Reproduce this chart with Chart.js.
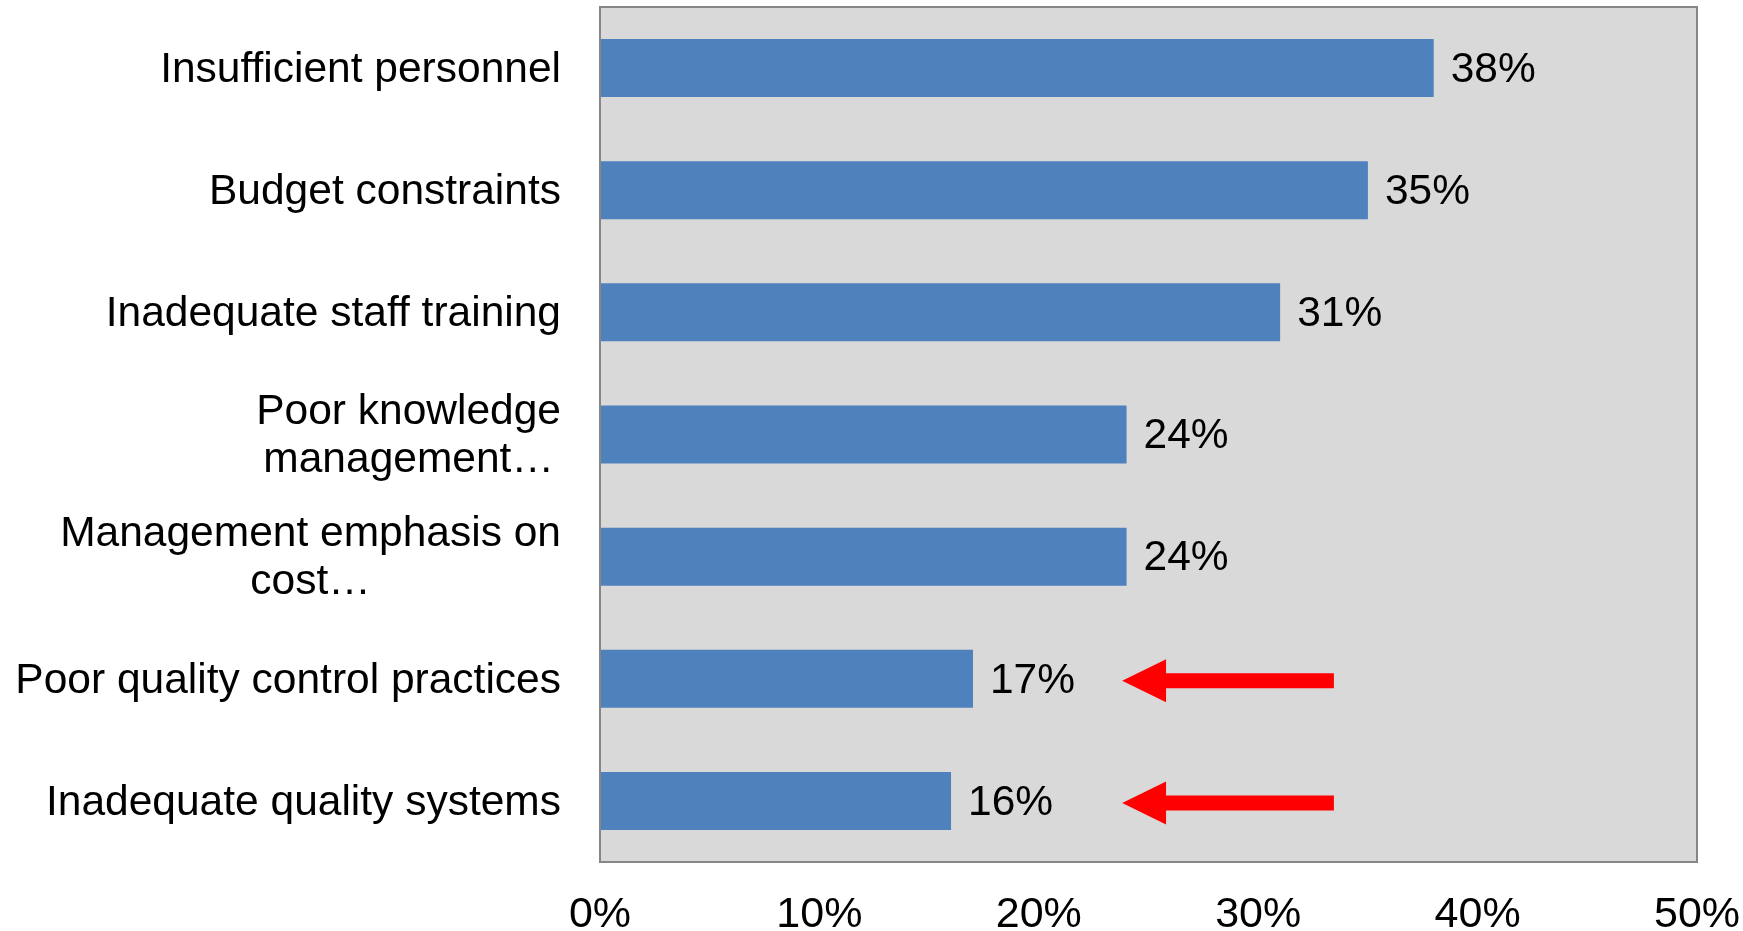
<!DOCTYPE html>
<html>
<head>
<meta charset="utf-8">
<script src="https://cdn.jsdelivr.net/npm/chart.js@4/dist/chart.umd.min.js"></script>
<style>
  html, body { margin: 0; padding: 0; background: #fff; }
  #wrap { width: 1743px; height: 931px; }
</style>
</head>
<body>
<div id="wrap"><canvas id="barrierChart"></canvas></div>
<script>
// categories (multi-line labels as arrays) and shares in percent
const barriers = [
    'Insufficient personnel',
    'Budget constraints',
    'Inadequate staff training',
    ['Poor knowledge', 'management\u2026'],
    ['Management emphasis on', 'cost\u2026'],
    'Poor quality control practices',
    'Inadequate quality systems'
];
const shares = [38, 35, 31, 24, 24, 17, 16];
const axisTicks = [0, 10, 20, 30, 40, 50];

// red pointers next to the two quality bars
const flaggedRows = [5, 6];

const FONT = '"Liberation Sans", Arial, sans-serif';

// grey plot background plus frame
const plotFrame = {
    id: 'plotFrame',
    beforeDraw(chart) {
        const { ctx, chartArea: a } = chart;
        ctx.save();
        ctx.fillStyle = '#d9d9d9';
        ctx.fillRect(a.left, a.top, a.right - a.left, a.bottom - a.top);
        ctx.restore();
    },
    afterDatasetsDraw(chart) {
        const { ctx, chartArea: a } = chart;
        ctx.save();
        ctx.strokeStyle = '#868686';
        ctx.lineWidth = 2;
        ctx.strokeRect(a.left, a.top, a.right - a.left, a.bottom - a.top);
        ctx.restore();
    }
};

// category names: block right-aligned to the axis, lines centred within it
const categoryLabels = {
    id: 'categoryLabels',
    afterDraw(chart) {
        const { ctx } = chart;
        const y = chart.scales.y;
        const lineH = 48;
        ctx.save();
        ctx.font = '42.5px ' + FONT;
        ctx.fillStyle = '#000';
        ctx.textBaseline = 'middle';
        ctx.textAlign = 'center';
        barriers.forEach((label, i) => {
            const lines = Array.isArray(label) ? label : [label];
            const w = Math.max(...lines.map(l => ctx.measureText(l).width));
            const cx = y.right - 39 - w / 2;
            const cy = y.getPixelForValue(i);
            lines.forEach((l, k) => {
                ctx.fillText(l, cx, cy + (k - (lines.length - 1) / 2) * lineH + 2);
            });
        });
        ctx.restore();
    }
};

// value labels at the end of each bar
const valueLabels = {
    id: 'valueLabels',
    afterDatasetsDraw(chart) {
        const { ctx } = chart;
        const meta = chart.getDatasetMeta(0);
        ctx.save();
        ctx.font = '42.5px ' + FONT;
        ctx.fillStyle = '#000';
        ctx.textBaseline = 'middle';
        ctx.textAlign = 'left';
        meta.data.forEach((bar, i) => {
            ctx.fillText(shares[i] + '%', bar.x + 17, bar.y + 2);
        });
        ctx.restore();
    }
};

// left-pointing arrows
const arrows = {
    id: 'arrows',
    afterDatasetsDraw(chart) {
        const { ctx } = chart;
        const x = chart.scales.x, y = chart.scales.y;
        const tip = x.getPixelForValue(23.8);
        const neck = x.getPixelForValue(25.8);
        const tail = x.getPixelForValue(33.45);
        ctx.save();
        ctx.fillStyle = '#ff0000';
        flaggedRows.forEach(row => {
            const cy = y.getPixelForValue(row) + 2;
            ctx.beginPath();
            ctx.moveTo(tip, cy);
            ctx.lineTo(neck, cy - 21.5);
            ctx.lineTo(neck, cy - 7.5);
            ctx.lineTo(tail, cy - 7.5);
            ctx.lineTo(tail, cy + 7.5);
            ctx.lineTo(neck, cy + 7.5);
            ctx.lineTo(neck, cy + 21.5);
            ctx.closePath();
            ctx.fill();
        });
        ctx.restore();
    }
};

new Chart(document.getElementById('barrierChart'), {
    type: 'bar',
    data: {
        labels: barriers,
        datasets: [{
            data: shares,
            backgroundColor: '#4f81bd',
            borderWidth: 0,
            barPercentage: 0.475,
            categoryPercentage: 1
        }]
    },
    options: {
        indexAxis: 'y',
        responsive: true,
        maintainAspectRatio: false,
        animation: false,
        layout: { padding: { top: 7, right: 46, left: 0, bottom: 0 } },
        plugins: {
            legend: { display: false },
            tooltip: { enabled: false }
        },
        scales: {
            x: {
                min: 0,
                max: 50,
                afterBuildTicks(scale) {
                    scale.ticks = axisTicks.map(v => ({ value: v }));
                },
                afterFit(scale) {
                    scale.height = 69;
                    scale.paddingLeft = 0;
                    scale.paddingRight = 0;
                },
                grid: { display: false, drawTicks: false },
                border: { display: false },
                ticks: {
                    padding: 27,
                    color: '#000',
                    font: { family: FONT, size: 43 },
                    callback: v => v + '%'
                }
            },
            y: {
                afterFit(scale) { scale.width = 600; },
                grid: { display: false, drawTicks: false },
                border: { display: false },
                ticks: { display: false }
            }
        }
    },
    plugins: [plotFrame, categoryLabels, valueLabels, arrows]
});
</script>
</body>
</html>
